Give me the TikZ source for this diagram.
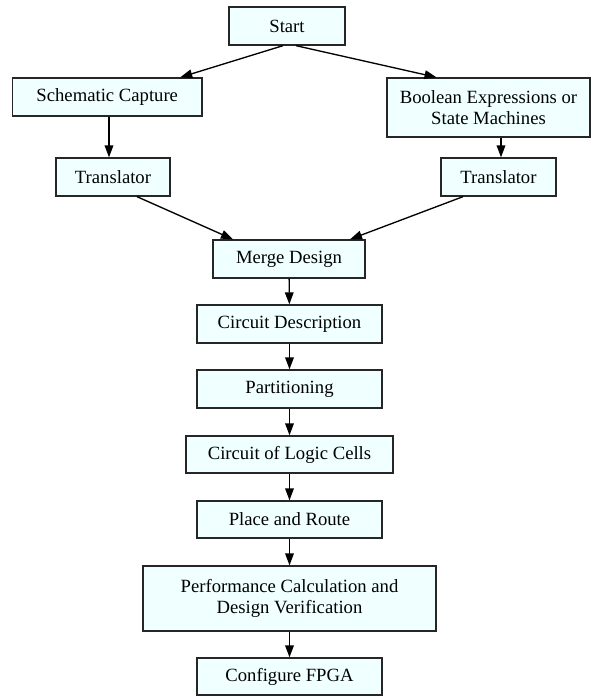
\documentclass[tikz,border=0pt]{standalone}
\usepackage{fontspec}
\setmainfont{Liberation Serif}
\usetikzlibrary{arrows.meta,calc}
\definecolor{boxfill}{HTML}{F0FFFF}
\begin{document}
\begin{tikzpicture}[x=0.75pt,y=-0.75pt,
  box/.style={draw=black!85,line width=1pt,fill=boxfill,
    font=\fontsize{14pt}{15.5pt}\selectfont,align=center,inner sep=0pt},
  sz/.style 2 args={minimum width=#1*0.75pt,minimum height=#2*0.75pt},
  flow/.style={draw=black,line width=1pt,-{Triangle[length=9pt,width=6.5pt]}}]
\useasboundingbox (0,0) rectangle (595,696);

% design entry
\node[box,sz={116}{38}]   (start)  at (287,26)      {Start};
\node[box,sz={189.5}{38}] (schem)  at (107.25,97)   {Schematic Capture};
\node[box,sz={203}{59}]   (bool)   at (488.5,107.5) {Boolean Expressions or\\State Machines};
\node[box,sz={114}{38}]   (transL) at (113,177)     {Translator};
\node[box,sz={115}{38}]   (transR) at (498.5,177)   {Translator};

% implementation chain
\node[box,sz={152}{38}] (merge) at (289,259)     {Merge Design};
\node[box,sz={185}{38}] (cdesc) at (289.5,324)   {Circuit Description};
\node[box,sz={185}{38}] (part)  at (289.5,389)   {Partitioning};
\node[box,sz={207}{37}] (clc)   at (289.5,454.5) {Circuit of Logic Cells};
\node[box,sz={185}{37}] (pnr)   at (289.5,519.5) {Place and Route};
\node[box,sz={293}{65}] (perf)  at (289.5,598.5) {Performance Calculation and\\Design Verification};
\node[box,sz={185}{37}] (fpga)  at (289.5,676.5) {Configure FPGA};

% connectors
\draw[flow] ($(start.south)+(-4,0)$) -- ($(schem.north)+(73,0)$);
\draw[flow] ($(start.south)+(9,0)$) -- ($(bool.north)+(-52,0)$);
\draw[flow] ($(schem.south)+(1.75,0)$) -- ($(transL.north)+(-4,0)$);
\draw[flow] ($(bool.south)+(12.5,0)$) -- ($(transR.north)+(2.5,0)$);
\draw[flow] ($(transL.south)+(24,0)$) -- ($(merge.north)+(-56,0)$);
\draw[flow] ($(transR.south)+(-35.5,0)$) -- ($(merge.north)+(61,0)$);
\draw[flow] (merge) -- (cdesc);
\draw[flow] (cdesc) -- (part);
\draw[flow] (part) -- (clc);
\draw[flow] (clc) -- (pnr);
\draw[flow] (pnr) -- (perf);
\draw[flow] (perf) -- (fpga);
\end{tikzpicture}
\end{document}
